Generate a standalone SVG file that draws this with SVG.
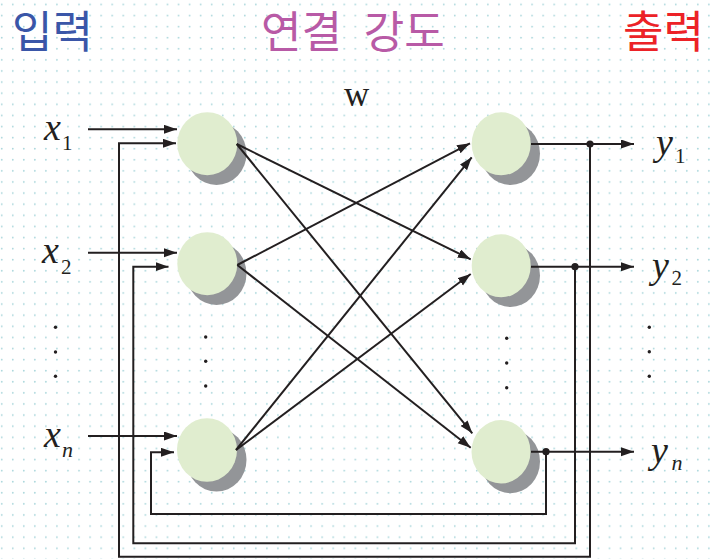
<svg xmlns="http://www.w3.org/2000/svg" width="712" height="559" viewBox="0 0 712 559">
<defs>
<pattern id="dots" x="0" y="0" width="11.05" height="11.1" patternUnits="userSpaceOnUse">
<circle cx="1.7" cy="4.4" r="0.9" fill="#a9d6db"/>
</pattern>
<marker id="ah" markerUnits="userSpaceOnUse" markerWidth="14" markerHeight="10" refX="13" refY="4.5" orient="auto">
<path d="M0,0 L13,4.5 L0,9 Z" fill="#231f20"/>
</marker>
<style>
.ttl{font-family:"Noto Sans CJK KR","Noto Sans",sans-serif;font-size:44px;font-weight:400}
.var{font-family:"Liberation Serif",serif;font-style:italic;font-size:38px;fill:#231f20}
.sub{font-family:"Liberation Serif",serif;font-style:normal;font-size:21px}
.subi{font-family:"Liberation Serif",serif;font-style:italic;font-size:22px}
.w{font-family:"Liberation Serif",serif;font-size:35px;fill:#231f20}
.shadow{fill:#939598}
.body{fill:#e0edcf}
.ln{stroke:#231f20;stroke-width:2;fill:none}
.arr{stroke:#231f20;stroke-width:2;fill:none;marker-end:url(#ah)}
.dot{fill:#231f20}
</style>
</defs>
<rect width="712" height="559" fill="#ffffff"/>
<rect width="712" height="559" fill="url(#dots)"/>

<text class="ttl" x="12" y="48" fill="#3a56a8">입력</text>
<text class="ttl" x="261" y="48" fill="#b85aa6" word-spacing="12">연결 강도</text>
<text class="ttl" x="623" y="48" fill="#ec2227">출력</text>
<text class="w" x="344" y="105.5">w</text>

<text class="var" x="44" y="139.5">x<tspan class="sub" x="62" y="150">1</tspan></text>
<text class="var" x="42" y="263">x<tspan class="sub" x="61" y="274">2</tspan></text>
<text class="var" x="44" y="446.5">x<tspan class="subi" x="62" y="456.5">n</tspan></text>
<text class="var" x="656" y="155">y<tspan class="sub" x="675" y="163">1</tspan></text>
<text class="var" x="652" y="278">y<tspan class="sub" x="671.5" y="285">2</tspan></text>
<text class="var" x="651" y="463">y<tspan class="subi" x="671.5" y="470">n</tspan></text>

<g id="ellipsis" class="dot">
<circle cx="55.5" cy="327.3" r="1.7"/><circle cx="55.5" cy="352" r="1.7"/><circle cx="55.5" cy="376.3" r="1.7"/>
<circle cx="205.7" cy="337" r="1.7"/><circle cx="205.7" cy="361.3" r="1.7"/><circle cx="205.7" cy="386" r="1.7"/>
<circle cx="506.7" cy="338.3" r="1.7"/><circle cx="506.7" cy="363" r="1.7"/><circle cx="506.7" cy="387.7" r="1.7"/>
<circle cx="649.3" cy="327.3" r="1.7"/><circle cx="649.3" cy="351.7" r="1.7"/><circle cx="649.3" cy="376.3" r="1.7"/>
</g>

<g id="in1"><ellipse class="shadow" cx="216.5" cy="153.5" rx="30" ry="31.5"/><ellipse class="body" cx="207.3" cy="143.7" rx="30" ry="31.5"/></g>
<g id="in2"><ellipse class="shadow" cx="216.5" cy="273.5" rx="30" ry="31.5"/><ellipse class="body" cx="207.3" cy="263.7" rx="30" ry="31.5"/></g>
<g id="inn"><ellipse class="shadow" cx="216.5" cy="459.8" rx="30" ry="31.8"/><ellipse class="body" cx="207" cy="450" rx="30" ry="31.8"/></g>
<g id="out1"><ellipse class="shadow" cx="510.5" cy="153.5" rx="29.5" ry="31.5"/><ellipse class="body" cx="501.2" cy="143.8" rx="29.5" ry="31.5"/></g>
<g id="out2"><ellipse class="shadow" cx="510.5" cy="275.5" rx="29.5" ry="31.5"/><ellipse class="body" cx="501.2" cy="265.8" rx="29.5" ry="31.5"/></g>
<g id="outn"><ellipse class="shadow" cx="510.5" cy="461.5" rx="29.5" ry="31.7"/><ellipse class="body" cx="501" cy="451.7" rx="29.5" ry="31.7"/></g>

<g id="connectors">
<line class="arr" x1="88" y1="129.3" x2="177" y2="129.3"/>
<line class="arr" x1="88" y1="252.7" x2="177" y2="252.7"/>
<line class="arr" x1="88" y1="436" x2="177" y2="436"/>

<polyline class="arr" points="590,144 590,556.7 119,556.7 119,143.3 176,143.3"/>
<polyline class="arr" points="575,266.7 575,543.3 133.3,543.3 133.3,266.7 168.5,266.7"/>
<polyline class="arr" points="546,452 546,514 151,514 151,452.3 174,452.3"/>

<line class="arr" x1="236.7" y1="144" x2="470.7" y2="259.3"/>
<line class="arr" x1="236.7" y1="144" x2="472.3" y2="433.3"/>
<line class="arr" x1="237.3" y1="265" x2="470" y2="143.3"/>
<line class="arr" x1="237.3" y1="265" x2="470.7" y2="447.7"/>
<line class="arr" x1="236" y1="450" x2="471.7" y2="157.3"/>
<line class="arr" x1="236" y1="450" x2="470.7" y2="274"/>

<line class="arr" x1="531" y1="144" x2="634" y2="144"/>
<line class="arr" x1="531" y1="266.7" x2="634" y2="266.7"/>
<line class="arr" x1="531" y1="451.7" x2="634" y2="451.7"/>

<circle class="dot" cx="590" cy="144" r="3.6"/>
<circle class="dot" cx="575" cy="266.7" r="3.6"/>
<circle class="dot" cx="546" cy="451.7" r="3.6"/>
</g>
</svg>
